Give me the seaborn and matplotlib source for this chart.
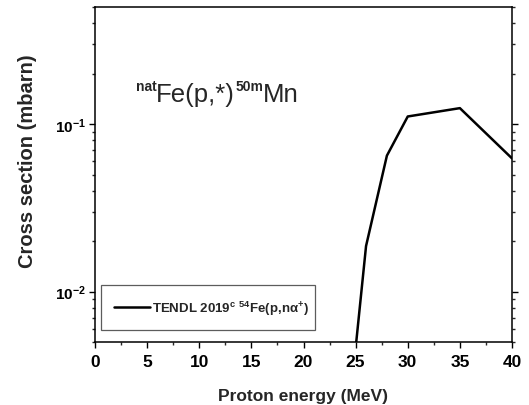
import matplotlib
matplotlib.use("Agg")
import matplotlib.pyplot as plt
from matplotlib.ticker import LogLocator, FixedLocator, FixedFormatter, MultipleLocator, NullFormatter
import seaborn as sns
import pandas as pd

# TENDL 2019 excitation function for 54Fe(p,na+) -> 50mMn
energy_mev = [25, 26, 28, 30, 35, 40]
cross_section_mb = [0.0046, 0.0187, 0.0648, 0.111, 0.1245, 0.0624]
series_label = "TENDL 2019$^{\\mathbf{c}}$ $^{\\mathbf{54}}$Fe(p,n$\\mathbf{\\alpha}^{\\mathbf{+}}$)"
x_ticks = [0, 5, 10, 15, 20, 25, 30, 35, 40]
y_ticks = [0.01, 0.1]
y_tick_labels = [r"$\mathbf{10^{-2}}$", r"$\mathbf{10^{-1}}$"]

sns.set_style("ticks")
plt.rcParams["font.family"] = ["Liberation Sans", "DejaVu Sans"]
plt.rcParams["mathtext.fontset"] = "custom"
plt.rcParams["mathtext.rm"] = "Liberation Sans"
plt.rcParams["mathtext.it"] = "Liberation Sans:italic"
plt.rcParams["mathtext.bf"] = "Liberation Sans:bold"

df = pd.DataFrame({"energy": energy_mev, "xs": cross_section_mb})

fig = plt.figure(figsize=(5.29, 4.06), dpi=100)
ax = fig.add_axes([95 / 529, 1 - 343 / 406, (512 - 95) / 529, (343 - 8) / 406])

sns.lineplot(data=df, x="energy", y="xs", ax=ax, color="black", linewidth=1.8,
             label=series_label, sort=False)

ax.set_yscale("log")
ax.set_xlim(0, 40)
ax.set_ylim(0.005, 0.5)

ax.xaxis.set_major_locator(FixedLocator(x_ticks))
ax.xaxis.set_minor_locator(MultipleLocator(2.5))
ax.yaxis.set_major_locator(FixedLocator(y_ticks))
ax.yaxis.set_major_formatter(FixedFormatter(y_tick_labels))
ax.yaxis.set_minor_locator(LogLocator(base=10, subs=range(2, 10)))
ax.yaxis.set_minor_formatter(NullFormatter())

ax.tick_params(axis="both", which="major", direction="out", length=4.5, width=1.0,
               colors="black")
ax.tick_params(axis="x", which="major", labelsize=12.5, pad=4)
ax.tick_params(axis="y", which="major", labelsize=11, pad=2)
ax.tick_params(axis="both", which="minor", direction="out", length=2.5, width=1.0)
ax.tick_params(axis="both", which="both", top=False, right=True)
for lbl in ax.get_xticklabels():
    lbl.set_fontweight("bold")

for s in ax.spines.values():
    s.set_linewidth(1.1)
    s.set_color("black")

ax.set_xlabel("Proton energy (MeV)", fontsize=12.5, fontweight="bold", labelpad=14)
ax.set_ylabel("Cross section (mbarn)", fontsize=14.5, fontweight="bold")
ax.yaxis.set_label_coords(-0.139, 0.542)

# reaction title with bold superscripts
main = ax.text(0.147, 0.705, "Fe(p,*)", transform=ax.transAxes, fontsize=18.5,
               ha="left", va="bottom")
ax.annotate("nat", xy=(0, 1), xycoords=main, ha="right", va="bottom",
            fontsize=10, fontweight="bold", xytext=(0, -8), textcoords="offset points")
sup = ax.annotate("50m", xy=(1, 1), xycoords=main, ha="left", va="bottom",
                  fontsize=10, fontweight="bold", xytext=(0, -8), textcoords="offset points")
fig.canvas.draw()
sup_w = sup.get_window_extent().width * 72 / fig.dpi
ax.annotate("Mn", xy=(1, 0), xycoords=main, ha="left", va="bottom", fontsize=18.5,
            xytext=(sup_w, 0), textcoords="offset points")

leg = ax.legend(loc="lower left", bbox_to_anchor=(0.0144, 0.036, 0.514, 0.125),
                mode="expand", frameon=True, fancybox=False, borderpad=1.0,
                handlelength=2.7, handletextpad=0.2, borderaxespad=0,
                prop={"weight": "bold", "size": 9.5})
leg.get_frame().set_edgecolor("#333333")
leg.get_frame().set_linewidth(0.9)

fig.savefig("out.png", dpi=100)
